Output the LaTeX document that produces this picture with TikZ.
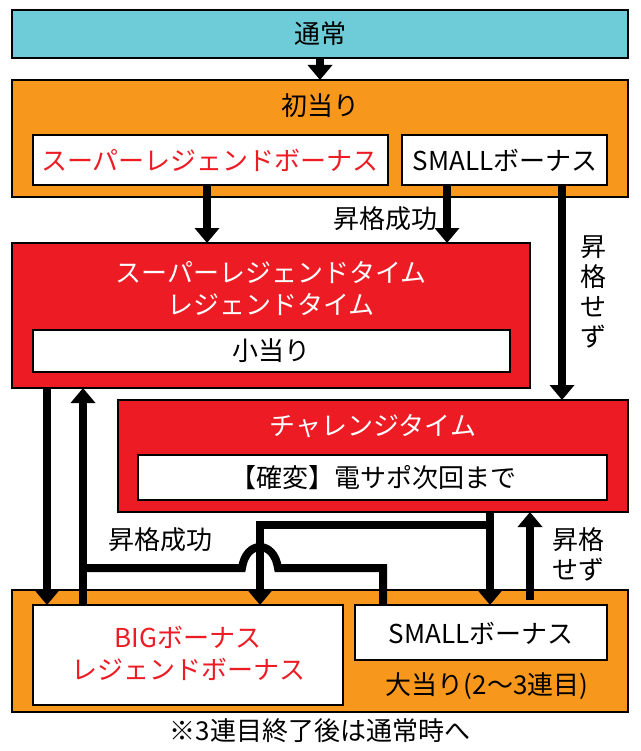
\documentclass[tikz,border=0pt]{standalone}
\usepackage{fontspec}
\setmainfont{Noto Sans CJK JP}
\usetikzlibrary{arrows.meta}
\definecolor{cyanbg}{RGB}{110,204,216}
\definecolor{orangebg}{RGB}{247,152,29}
\definecolor{redbg}{RGB}{237,28,36}
\tikzset{
  box/.style={draw=black,line width=2pt,inner sep=0pt},
  thick arrow/.style={line width=8pt,-{Triangle[length=15pt,width=24pt]}},
  thick line/.style={line width=8pt},
  txt/.style={font=\fontsize{26}{32}\selectfont,inner sep=0pt},
}
\begin{document}
\begin{tikzpicture}[x=1pt,y=1pt,yscale=-1]
\useasboundingbox (0,0) rectangle (640,751);

%Boxes
\draw[box,fill=cyanbg] (12,10) rectangle (628,58);
\node[txt] (tsujo) at (320,34) {通常};
\draw[box,fill=orangebg] (12,80) rectangle (628,197);
\node[txt] (hatsu) at (320,106) {初当り};
\draw[box,fill=white] (33,135) rectangle (388,185);
\node[txt,text=redbg] (slb) at (210,160) {スーパーレジェンドボーナス};
\draw[box,fill=white] (402,135) rectangle (607,185);
\node[txt] (smb) at (505,160) {SMALLボーナス};

\draw[box,fill=redbg] (12,243) rectangle (530,388);
\node[txt,text=white,align=center] (slt) at (271,288) {スーパーレジェンドタイム\\レジェンドタイム};
\draw[box,fill=white] (33,330) rectangle (510,372);
\node[txt] (koatari) at (271,351) {小当り};

\draw[box,fill=redbg] (118,400) rectangle (628,512);
\node[txt,text=white] (ct) at (373,426) {チャレンジタイム};
\draw[box,fill=white] (138,455) rectangle (607,500);
\node[txt] (denso) at (373,478) {【確変】電サポ次回まで};

\draw[box,fill=orangebg] (12,590) rectangle (628,712);
\draw[box,fill=white] (33,605) rectangle (343,705);
\node[txt,text=redbg,align=center] (big) at (188,653) {BIGボーナス\\レジェンドボーナス};
\draw[box,fill=white] (355,605) rectangle (607,660);
\node[txt] (bsm) at (481,633) {SMALLボーナス};
\node[txt] (oatari) at (487,686) {大当り(2〜3連目)};
\node[txt] (note) at (320,731) {※3連目終了後は通常時へ};

%Arrows
\draw[thick arrow] (320,58) -- (320,80);
\draw[thick arrow] (207,185) -- (207,243);
\draw[thick arrow] (447,185) -- (447,243);
\node[txt,anchor=east] (l1) at (438,219) {昇格成功};
\draw[thick arrow] (562,185) -- (562,400);
\node[txt,align=center,font=\fontsize{26}{30}\selectfont] (l2) at (593,292) {昇\\格\\せ\\ず};

\draw[thick arrow] (47,388) -- (47,605);
\draw[thick arrow] (83,605) -- (83,388);
\draw[thick arrow] (490,512) -- (490,605);
\draw[thick line] (490,525) -- (260,525);
\draw[thick arrow] (260,521) -- (260,605);
\draw[thick line] (383,605) -- (383,568) -- (278,568)
  .. controls (274,540) and (246,540) .. (242,568) -- (79,568);
\node[txt,anchor=west] (l3) at (108,540) {昇格成功};
\draw[thick arrow] (530,600) -- (530,512);
\node[txt,align=center,font=\fontsize{26}{30}\selectfont] (l4) at (578,554) {昇格\\せず};
\end{tikzpicture}
\end{document}
